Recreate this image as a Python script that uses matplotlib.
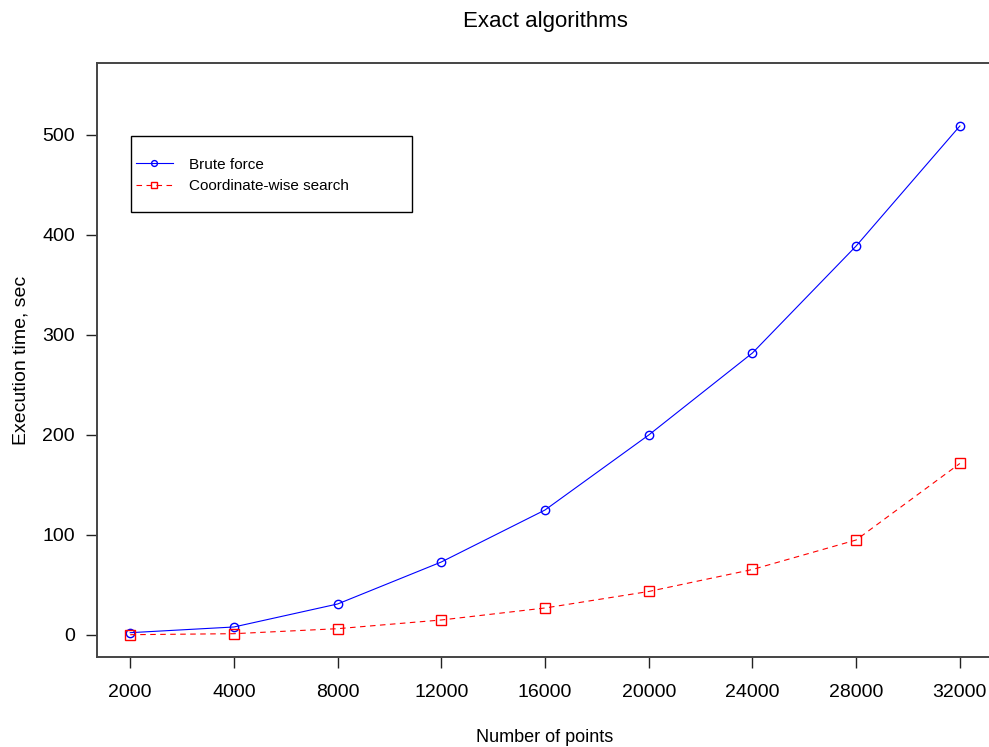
#! /usr/bin/env python3
# Execution time of the exact algorithms against the number of points.

import matplotlib
matplotlib.use("Agg")
import matplotlib.pyplot as plt
from matplotlib.patches import Rectangle

plt.rcParams['font.family'] = ['Liberation Sans', 'DejaVu Sans']

n_points = [2000, 4000, 8000, 12000, 16000, 20000, 24000, 28000, 32000]
labels = [str(n) for n in n_points]
positions = list(range(1, len(n_points) + 1))

brute_force = [2.3, 8, 31, 73, 125, 200, 282, 389, 509]
coord_search = [0.3, 1.3, 6.3, 15, 27, 43.5, 65.5, 95, 171.5]

fig = plt.figure(figsize=(9.89, 7.47), dpi=100)
ax = fig.add_axes([0.0981, 0.1205, 0.906, 0.7952])

ax.plot(positions, brute_force, color='blue', lw=0.8, marker='o', ms=6,
        mfc='none', mew=1.0, label="Brute force")
ax.plot(positions, coord_search, color='red', lw=0.8, ls=(0, (5, 4)), marker='s',
        ms=6.5, mfc='none', mew=1.0, label="Coordinate-wise search")

ax.set_xlim(0.68, 9.32)
ax.set_ylim(-22, 572)
ax.set_xticks(positions)
ax.set_xticklabels(labels)
ax.set_yticks(range(0, 501, 100))
ax.tick_params(direction='out', length=8, width=1, colors='#222222',
               labelsize=14, labelcolor='black')
ax.tick_params(axis='x', pad=11.5)
ax.tick_params(axis='y', pad=8)

for side in ['top', 'bottom', 'left']:
    ax.spines[side].set_color('#444444')
    ax.spines[side].set_linewidth(1.4)
# the right edge of the box falls outside the canvas
ax.spines['right'].set_visible(False)

ax.set_title("Exact algorithms", fontsize=16, pad=26)
ax.set_xlabel("Number of points", fontsize=13, labelpad=20)
ax.set_ylabel("Execution time, sec", fontsize=14, labelpad=9)

# legend box drawn separately so it can be wider than its contents
ax.add_patch(Rectangle((0.0379, 0.7492), 0.3136, 0.128, transform=ax.transAxes,
                       fill=False, edgecolor='black', lw=1.0, zorder=5))
ax.legend(loc='center left', bbox_to_anchor=(0.0435, 0.8106), frameon=False,
          fontsize=11, borderpad=0, borderaxespad=0, handlelength=2.4,
          handletextpad=1.1, labelspacing=0.5, markerscale=0.7)

fig.savefig("out.png", dpi=100)
